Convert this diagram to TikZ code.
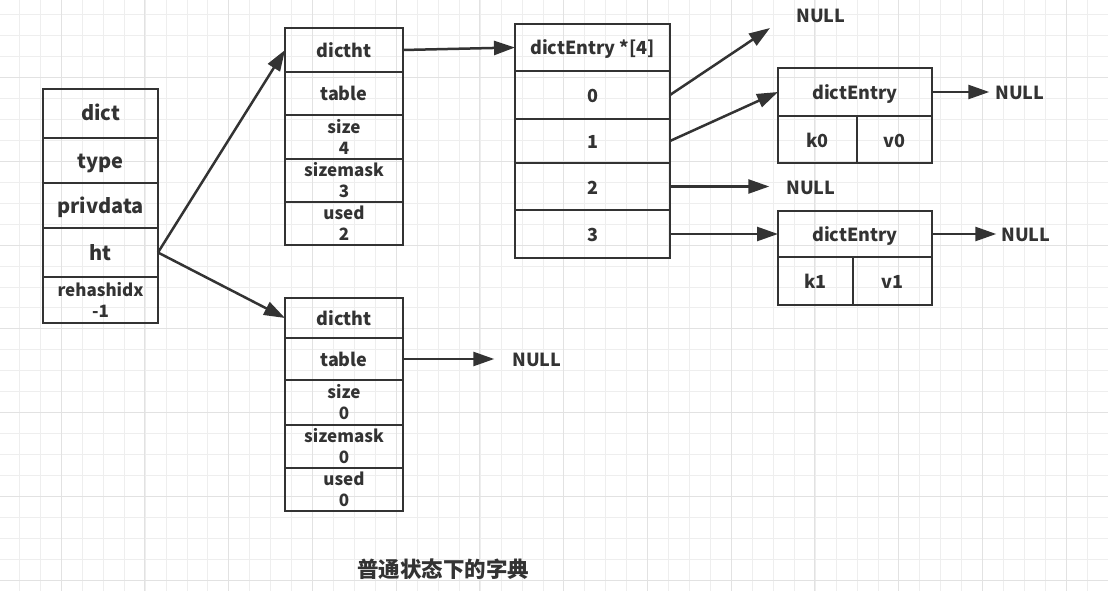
\documentclass[tikz,border=0pt]{standalone}
\usepackage{fontspec}
\setmainfont{Noto Sans CJK SC}
\usepackage{xcolor}
\usetikzlibrary{arrows.meta, positioning}
\definecolor{ink}{HTML}{333333}
\definecolor{gridminor}{HTML}{EEEEEE}
\definecolor{gridmajor}{HTML}{E2E2E2}

\begin{document}
\begin{tikzpicture}[x=1pt, y=-1pt, every node/.style={font=\bfseries\fontsize{18}{20}\selectfont, text=ink},
  cell/.style={draw=ink, line width=2.5pt, rectangle, inner sep=0pt, outer sep=0pt, align=center, text height=18pt, text depth=3pt},
  two/.style={font=\bfseries\fontsize{17}{21}\selectfont, text height=, text depth=},
  big/.style={font=\bfseries\fontsize{20}{22}\selectfont},
  dictcol/.style={cell, minimum width=115},
  htcol/.style={cell, minimum width=118},
  arrcol/.style={cell, minimum width=155},
  arr/.style={-{Triangle[length=21pt, width=14pt]}, draw=ink, line width=2.5pt}]
\useasboundingbox (0,0) rectangle (1108,591);
\fill[white] (0,0) rectangle (1108,591);
\foreach \i in {0,...,51} \draw[gridminor, line width=1pt] ({19.5+20.94*\i},0) -- ({19.5+20.94*\i},591);
\foreach \i in {0,...,27} \draw[gridminor, line width=1pt] (0,{14.8+20.94*\i}) -- (1108,{14.8+20.94*\i});
\foreach \i in {0,...,12} \draw[gridmajor, line width=1pt] ({61+83.76*\i},0) -- ({61+83.76*\i},591);
\foreach \i in {0,...,6} \draw[gridmajor, line width=1pt] (0,{77.7+83.76*\i}) -- (1108,{77.7+83.76*\i});

\node (dict) [dictcol, big, minimum height=49] at (100.5,113.5) {dict};
\node (type) [dictcol, big, minimum height=45, below=0pt of dict] {type};
\node (privdata) [dictcol, big, minimum height=45, below=0pt of type] {privdata};
\node (ht) [dictcol, big, minimum height=49, below=0pt of privdata] {ht};
\node (rehashidx) [dictcol, two, minimum height=46, below=0pt of ht] {rehashidx\\-1};

\node (dtA) [htcol, minimum height=44] at (344,50) {dictht};
\node (tableA) [htcol, minimum height=43, below=0pt of dtA] {table};
\node (sizeA) [htcol, two, minimum height=44, below=0pt of tableA] {size\\4};
\node (maskA) [htcol, two, minimum height=43, below=0pt of sizeA] {sizemask\\3};
\node (usedA) [htcol, two, minimum height=43, below=0pt of maskA] {used\\2};

\node (dtB) [htcol, minimum height=40] at (344,318) {dictht};
\node (tableB) [htcol, minimum height=42, below=0pt of dtB] {table};
\node (sizeB) [htcol, two, minimum height=45, below=0pt of tableB] {size\\0};
\node (maskB) [htcol, two, minimum height=43, below=0pt of sizeB] {sizemask\\0};
\node (usedB) [htcol, two, minimum height=43, below=0pt of maskB] {used\\0};

\node (table) [arrcol, minimum height=47] at (592.5,47.5) {dictEntry *[4]};
\node (slot0) [arrcol, minimum height=48, below=0pt of table] {0};
\node (slot1) [arrcol, minimum height=44, below=0pt of slot0] {1};
\node (slot2) [arrcol, minimum height=47, below=0pt of slot1] {2};
\node (slot3) [arrcol, minimum height=48, below=0pt of slot2] {3};

\node (entryA) [cell, minimum width=154, minimum height=48] at (855,92) {dictEntry};
\node (k0) [cell, anchor=north west, minimum width=79, minimum height=47] at (entryA.south west) {k0};
\node (v0) [cell, anchor=north east, minimum width=75, minimum height=47] at (entryA.south east) {v0};
\node (entryB) [cell, minimum width=154, minimum height=46] at (855,234) {dictEntry};
\node (k1) [cell, anchor=north west, minimum width=75, minimum height=48] at (entryB.south west) {k1};
\node (v1) [cell, anchor=north east, minimum width=79, minimum height=48] at (entryB.south east) {v1};

\node (null0) [inner sep=0pt] at (821,16) {NULL};
\node (null1) [inner sep=0pt] at (1020,93) {NULL};
\node (null2) [inner sep=0pt] at (811,187.5) {NULL};
\node (null3) [inner sep=0pt] at (1026,235) {NULL};
\node (null4) [inner sep=0pt] at (537,360) {NULL};
\coordinate (tip0) at (770,28);

\draw[arr] (ht.east) -- (dtA.west);
\draw[arr] (ht.east) -- (dtB.west);
\draw[arr] (dtA.east) -- (table.west);
\draw[arr, shorten >=18pt] (tableB.east) -- (tableB.east -| null4.west);
\draw[arr] (slot0.east) -- (tip0);
\draw[arr] (slot1.east) -- (entryA.west);
\draw[arr, shorten >=17pt] (slot2.east) -- (slot2.east -| null2.west);
\draw[arr] (slot3.east) -- (entryB.west);
\draw[arr, shorten >=6pt] (entryA.east) -- (entryA.east -| null1.west);
\draw[arr, shorten >=5pt] (entryB.east) -- (entryB.east -| null3.west);

\node (caption) [font=\bfseries\fontsize{21.5}{24}\selectfont] at (443,569) {普通状态下的字典};
\end{tikzpicture}
\end{document}
